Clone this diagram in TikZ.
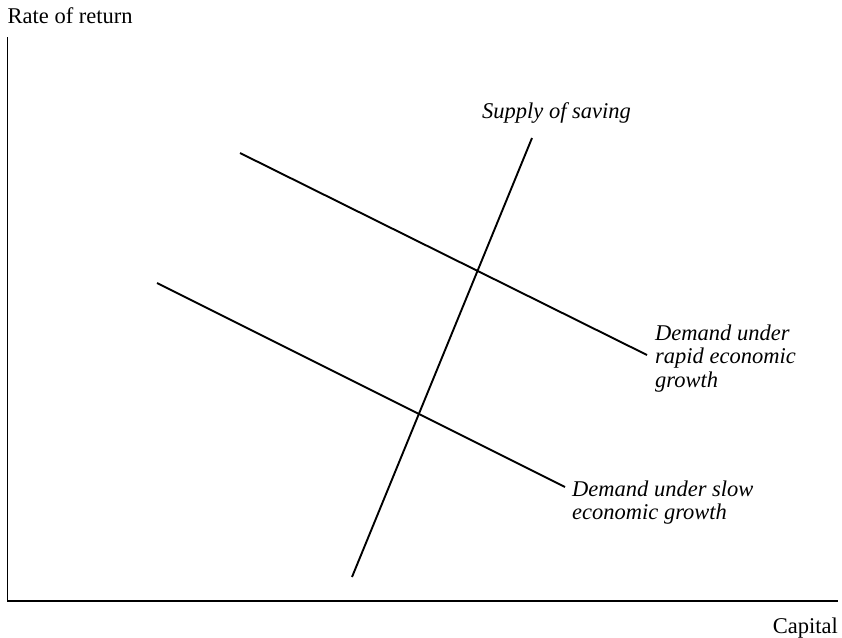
\documentclass[tikz,border=0pt]{standalone}
\usepackage{fontspec}
\setmainfont{Liberation Serif}
\begin{document}
\begin{tikzpicture}[x=1pt,y=-1pt,
  axis/.style={line width=1.4pt,line cap=rect},
  curve/.style={line width=1.9pt},
  lbl/.style={inner sep=0pt,font=\fontsize{22.5}{23.5}\selectfont},
  clbl/.style={lbl,font=\fontsize{22.5}{23.5}\selectfont\itshape,align=left}]
\useasboundingbox (0,0) rectangle (842,637);

% axes
\coordinate (origin) at (7.5,601);
\coordinate (ytop) at (7.5,38);
\coordinate (xend) at (837,601);
\draw[axis] (ytop) -- (origin) -- (xend);
\node[lbl,anchor=base west] (ylabel) at (7.5,23.3) {Rate of return};
\node[lbl,anchor=base east] (xlabel) at (838,633) {Capital};

% supply of saving
\coordinate (s1) at (352,577);
\coordinate (s2) at (532,138);
\draw[curve] (s1) -- (s2);
\node[clbl,anchor=base west] (slabel) at (482,118) {Supply of saving};

% demand under rapid growth
\coordinate (r1) at (240,153);
\coordinate (r2) at (647,355);
\draw[curve] (r1) -- (r2);
\node[clbl,anchor=base west] (rlabel1) at (655,340) {Demand under};
\node[clbl,anchor=base west] (rlabel2) at (655,363.5) {rapid economic};
\node[clbl,anchor=base west] (rlabel3) at (655,387) {growth};

% demand under slow growth
\coordinate (d1) at (157,283);
\coordinate (d2) at (565,487);
\draw[curve] (d1) -- (d2);
\node[clbl,anchor=base west] (dlabel1) at (572,496) {Demand under slow};
\node[clbl,anchor=base west] (dlabel2) at (572,519.5) {economic growth};
\end{tikzpicture}
\end{document}
